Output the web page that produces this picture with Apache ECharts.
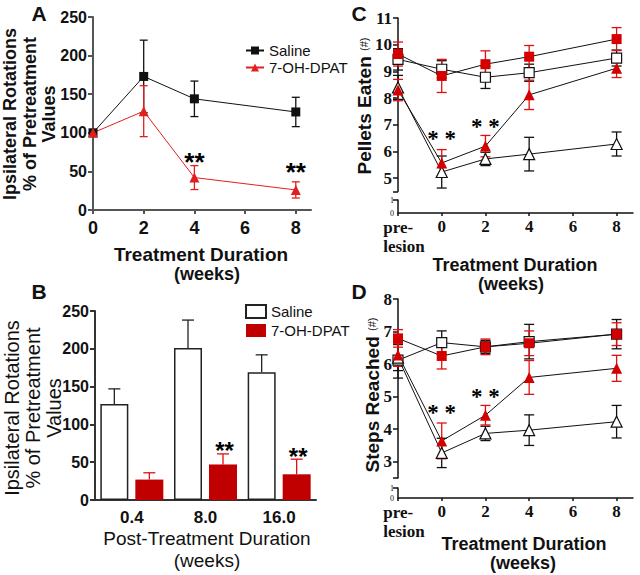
<!DOCTYPE html>
<html>
<head>
<meta charset="utf-8">
<script src="https://cdn.jsdelivr.net/npm/echarts@6/dist/echarts.min.js"></script>
<style>
html,body{margin:0;padding:0;background:#fff;}
#chart{width:640px;height:575px;}
</style>
</head>
<body>
<div id="chart"></div>
<script>
// ---------- Panel A data ----------
const weeksA = [0, 2, 4, 8];
const salineA = [100, 173, 144, 127];
const salineASem = [0, 47, 23, 19];
const dpatA = [100, 128, 42, 26];
const dpatASem = [0, 33, 15.5, 10.5];
const ticksA = [0, 2, 4, 6, 8];

// ---------- Panel B data ----------
const catsB = ['0.4', '8.0', '16.0'];
const salineB = [127, 201, 169];
const salineBSem = [20, 37, 23];
const dpatB = [27, 47, 34];
const dpatBSem = [9, 14, 20];

// ---------- Panels C / D shared x ----------
const weeksCD = [-2, 0, 2, 4, 8];       // -2 = "pre-lesion"
const ticksCD = [-2, 0, 2, 4, 6, 8];

// ---------- Panel C data (Pellets Eaten) ----------
const cRedSq = [9.65, 8.83, 9.27, 9.55, 10.21];
const cRedSqSem = [0.45, 0.62, 0.5, 0.42, 0.43];
const cOpenSq = [9.45, 9.08, 8.78, 8.95, 9.5];
const cOpenSqSem = [0.4, 0.32, 0.42, 0.32, 0.3];
const cRedTri = [8.3, 5.57, 6.2, 8.12, 9.12];
const cRedTriSem = [0.4, 0.5, 0.4, 0.55, 0.35];
const cOpenTri = [8.4, 5.23, 5.72, 5.9, 6.28];
const cOpenTriSem = [0.45, 0.6, 0.25, 0.63, 0.45];
const ticksCy = [5, 6, 7, 8, 9, 10, 11];

// ---------- Panel D data (Steps Reached) ----------
const dRedSq = [6.79, 6.25, 6.53, 6.64, 6.92];
const dRedSqSem = [0.27, 0.4, 0.24, 0.38, 0.35];
const dOpenSq = [6.12, 6.66, 6.53, 6.69, 6.92];
const dOpenSqSem = [0.55, 0.36, 0.2, 0.53, 0.45];
const dRedTri = [6.28, 3.64, 4.43, 5.59, 5.87];
const dRedTriSem = [0.35, 0.55, 0.3, 0.52, 0.4];
const dOpenTri = [6.2, 3.27, 3.87, 3.97, 4.23];
const dOpenTriSem = [0.4, 0.45, 0.22, 0.47, 0.5];
const ticksDy = [3, 4, 5, 6, 7, 8];

// ---------- significance marks ----------
const starsA = [[4, 62], [8, 49]];
const starsB = [[1, 66], [2, 58]];
const starsC = [[0, 6.47], [2, 6.94]];
const starsD = [[0, 4.5], [2, 5.0]];

const SANS = "'Liberation Sans', Arial, sans-serif";
const SERIF = "'Liberation Serif', 'Times New Roman', serif";
const RED = '#d40000';
const RED_ERR = '#e01010';
const BLK = '#111';

function zip(xs, ys, es) { return xs.map((x, i) => es ? [x, ys[i], es[i]] : [x, ys[i]]); }

function errSeries(xi, yi, data, color, cap, both, offset) {
  return {
    type: 'custom', xAxisIndex: xi, yAxisIndex: yi, z: 2, silent: true,
    encode: { x: 0, y: 1 },
    data: data,
    renderItem: function (params, api) {
      const x = api.value(0), y = api.value(1), e = api.value(2);
      if (!e) return null;
      const c = api.coord([x, y]);
      const t = api.coord([x, y + e]);
      const b = both ? api.coord([x, y - e]) : c;
      const px = c[0] + (offset || 0);
      const st = { stroke: color, lineWidth: 1.3 };
      const ch = [
        { type: 'line', shape: { x1: px, y1: t[1], x2: px, y2: b[1] }, style: st },
        { type: 'line', shape: { x1: px - cap, y1: t[1], x2: px + cap, y2: t[1] }, style: st }
      ];
      if (both) ch.push({ type: 'line', shape: { x1: px - cap, y1: b[1], x2: px + cap, y2: b[1] }, style: st });
      return { type: 'group', children: ch };
    }
  };
}

function starSeries(xi, yi, data, text, size, family, weight, offX) {
  return {
    type: 'scatter', xAxisIndex: xi, yAxisIndex: yi, silent: true, z: 10,
    symbolSize: 1, itemStyle: { color: '#fff', opacity: 1 },
    data: data,
    label: { show: true, position: 'inside', formatter: text, fontSize: size, fontFamily: family,
             fontWeight: weight, color: '#000', textBorderWidth: 0, offset: [offX || 0, 0] }
  };
}

function cdLine(xi, yi, name, vals, sym, filled) {
  return {
    type: 'line', name: name, xAxisIndex: xi, yAxisIndex: yi, z: 4,
    data: zip(weeksCD, vals),
    symbol: sym, symbolSize: sym === 'rect' ? 10 : 11,
    showSymbol: true,
    itemStyle: filled ? { color: RED, borderColor: RED, borderWidth: 0 } : { color: '#fff', borderColor: BLK, borderWidth: 1.2 },
    lineStyle: { color: BLK, width: 1 }
  };
}

const grids = [
  { left: 93, top: 17, width: 218, height: 193 },   // 0 A
  { left: 95, top: 311, width: 221, height: 189 },  // 1 B
  { left: 398, top: 18, width: 235, height: 173.5 },// 2 C upper
  { left: 398, top: 200, width: 235, height: 13 },  // 3 C lower
  { left: 398, top: 299, width: 235, height: 179 }, // 4 D upper
  { left: 398, top: 488, width: 235, height: 10 }   // 5 D lower
];

const axGrayA = { color: '#555', width: 2 };
const axGrayB = { color: '#333', width: 2 };
const axBlk = { color: '#111', width: 1.5 };

function cdX(gi, show) {
  return {
    gridIndex: gi, type: 'value', min: -2, max: 8.75, show: show,
    splitLine: { show: false },
    axisLine: { show: true, onZero: false, lineStyle: axBlk },
    axisTick: { show: true, customValues: ticksCD, length: 3, lineStyle: axBlk },
    axisLabel: {
      customValues: ticksCD, margin: 5, color: '#111', fontFamily: SERIF, fontWeight: 'bold', fontSize: 17, lineHeight: 17,
      formatter: v => v === -2 ? '{p|pre-\nlesion}' : String(v),
      rich: { p: { fontFamily: SERIF, fontWeight: 'bold', fontSize: 17, lineHeight: 19, align: 'left', padding: [0, 0, 0, 12] } }
    }
  };
}
function cdYUpper(gi, min, max, ticks) {
  return {
    gridIndex: gi, type: 'value', min: min, max: max,
    splitLine: { show: false },
    axisLine: { show: true, onZero: false, lineStyle: axBlk },
    axisTick: { show: true, customValues: [min].concat(ticks), length: 5, lineStyle: axBlk },
    axisLabel: { customValues: ticks, margin: 6, color: '#111', fontFamily: SERIF, fontWeight: 'bold', fontSize: 17 }
  };
}
function cdYLower(gi) {
  return {
    gridIndex: gi, type: 'value', min: 0, max: 1,
    splitLine: { show: false },
    axisLine: { show: true, onZero: false, lineStyle: axBlk },
    axisTick: { show: true, customValues: [1], length: 5, lineStyle: axBlk },
    axisLabel: { customValues: [0, 1], margin: 4, color: '#111', fontFamily: SERIF, fontSize: 8, lineHeight: 8 }
  };
}

const xAxes = [
  { gridIndex: 0, type: 'value', min: 0, max: 8.6, splitLine: { show: false },
    axisLine: { show: true, onZero: false, lineStyle: axGrayA },
    axisTick: { show: true, customValues: ticksA, length: 4, lineStyle: axGrayA },
    axisLabel: { customValues: ticksA, margin: 9, color: '#111', fontFamily: SANS, fontWeight: 'bold', fontSize: 18 } },
  { gridIndex: 1, type: 'category', data: catsB,
    axisLine: { show: true, lineStyle: axGrayB }, axisTick: { show: false },
    axisLabel: { margin: 9, color: '#111', fontFamily: SANS, fontWeight: 'bold', fontSize: 17 } },
  cdX(2, false), cdX(3, true), cdX(4, false), cdX(5, true)
];
const yAxes = [
  { gridIndex: 0, type: 'value', min: 0, max: 250, interval: 50, splitLine: { show: false },
    axisLine: { show: true, onZero: false, lineStyle: axGrayA },
    axisTick: { show: true, length: 5, lineStyle: axGrayA },
    axisLabel: { margin: 6, color: '#111', fontFamily: SANS, fontWeight: 'bold', fontSize: 16 } },
  { gridIndex: 1, type: 'value', min: 0, max: 250, interval: 50, splitLine: { show: false },
    axisLine: { show: true, onZero: false, lineStyle: axGrayB },
    axisTick: { show: true, length: 5, lineStyle: axGrayB },
    axisLabel: { margin: 6, color: '#111', fontFamily: SANS, fontWeight: 'bold', fontSize: 16 } },
  cdYUpper(2, 4.5, 11, ticksCy), cdYLower(3),
  cdYUpper(4, 2.5, 8, ticksDy), cdYLower(5)
];

const series = [
  // Panel A
  errSeries(0, 0, zip(weeksA, salineA, salineASem), BLK, 4, true),
  errSeries(0, 0, zip(weeksA, dpatA, dpatASem), '#e02020', 4, true),
  { type: 'line', name: 'Saline', xAxisIndex: 0, yAxisIndex: 0, z: 4, data: zip(weeksA, salineA),
    symbol: 'rect', symbolSize: 9, itemStyle: { color: BLK }, lineStyle: { color: BLK, width: 1 } },
  { type: 'line', name: '7-OH-DPAT', xAxisIndex: 0, yAxisIndex: 0, z: 4, data: zip(weeksA, dpatA),
    symbol: 'triangle', symbolSize: 10, itemStyle: { color: '#e02020' }, lineStyle: { color: '#e02020', width: 1 } },
  starSeries(0, 0, starsA, '**', 26, SANS, 'bold'),

  // Panel B
  { type: 'bar', name: 'Saline ', xAxisIndex: 1, yAxisIndex: 1, data: salineB, barWidth: 28, barGap: '25%',
    itemStyle: { color: '#fff', borderColor: '#222', borderWidth: 1.5 } },
  { type: 'bar', name: '7-OH-DPAT ', xAxisIndex: 1, yAxisIndex: 1, data: dpatB, barWidth: 28, barGap: '25%',
    itemStyle: { color: '#c00000' } },
  errSeries(1, 1, catsB.map((c, i) => [i, salineB[i], salineBSem[i]]), '#222', 6, false, -17.5),
  errSeries(1, 1, catsB.map((c, i) => [i, dpatB[i], dpatBSem[i]]), RED_ERR, 6, false, 17.5),
  starSeries(1, 1, starsB, '**', 24, SANS, 'bold', 19),

  // Panel C
  errSeries(2, 2, zip(weeksCD, cOpenSq, cOpenSqSem), BLK, 5, true),
  errSeries(2, 2, zip(weeksCD, cOpenTri, cOpenTriSem), BLK, 5, true),
  errSeries(2, 2, zip(weeksCD, cRedSq, cRedSqSem), RED_ERR, 5, true),
  errSeries(2, 2, zip(weeksCD, cRedTri, cRedTriSem), RED_ERR, 5, true),
  cdLine(2, 2, 'C open square', cOpenSq, 'rect', false),
  cdLine(2, 2, 'C open triangle', cOpenTri, 'triangle', false),
  cdLine(2, 2, 'C red square', cRedSq, 'rect', true),
  cdLine(2, 2, 'C red triangle', cRedTri, 'triangle', true),
  starSeries(2, 2, starsC, '* *', 23, SERIF, 'bold'),

  // Panel D
  errSeries(4, 4, zip(weeksCD, dOpenSq, dOpenSqSem), BLK, 5, true),
  errSeries(4, 4, zip(weeksCD, dOpenTri, dOpenTriSem), BLK, 5, true),
  errSeries(4, 4, zip(weeksCD, dRedSq, dRedSqSem), RED_ERR, 5, true),
  errSeries(4, 4, zip(weeksCD, dRedTri, dRedTriSem), RED_ERR, 5, true),
  cdLine(4, 4, 'D open square', dOpenSq, 'rect', false),
  cdLine(4, 4, 'D open triangle', dOpenTri, 'triangle', false),
  cdLine(4, 4, 'D red square', dRedSq, 'rect', true),
  cdLine(4, 4, 'D red triangle', dRedTri, 'triangle', true),
  starSeries(4, 4, starsD, '* *', 23, SERIF, 'bold')
];

function txt(x, y, text, size, weight, opts) {
  opts = opts || {};
  return {
    type: 'text', x: x, y: y, rotation: opts.rot || 0, z: 100,
    style: { text: text, fontSize: size, fontWeight: weight, fontFamily: opts.family || SANS, fill: '#111',
             align: 'center', verticalAlign: 'middle', lineHeight: opts.lh || size, rich: opts.rich }
  };
}
const R90 = Math.PI / 2;

const graphics = [
  txt(39, 13, 'A', 21, 'bold'), txt(39, 291, 'B', 21, 'bold'),
  txt(359, 13, 'C', 21, 'bold'), txt(359, 291, 'D', 21, 'bold'),
  txt(29.5, 114, 'Ipsilateral Rotations\n% of Pretreatment\nValues', 18, 'bold', { rot: R90, lh: 19.5 }),
  txt(32.5, 408, 'Ipsilateral Rotations\n% of Pretreatment\nValues', 20, 'normal', { rot: R90, lh: 21 }),
  txt(201, 254, 'Treatment Duration', 19, 'bold'),
  txt(207, 273.5, '(weeks)', 18, 'bold'),
  txt(207, 538, 'Post-Treatment Duration', 19, 'normal'),
  txt(207, 560, '(weeks)', 19, 'normal'),
  txt(515, 265, 'Treatment Duration', 18, 'bold'),
  txt(511, 284, '(weeks)', 18, 'bold'),
  txt(524, 544, 'Treatment Duration', 18, 'bold'),
  txt(523, 562.5, '(weeks)', 18, 'bold'),
  txt(364, 106, '{a|Pellets Eaten }{b|(#)}', 19, 'bold',
      { rot: R90, rich: { a: { fontSize: 19, fontWeight: 'bold', fontFamily: SANS, fill: '#111' },
                          b: { fontSize: 11, fontWeight: 'normal', fontFamily: SANS, fill: '#111' } } }),
  txt(372, 395, '{a|Steps Reached }{b|(#)}', 19, 'bold',
      { rot: R90, rich: { a: { fontSize: 19, fontWeight: 'bold', fontFamily: SANS, fill: '#111' },
                          b: { fontSize: 11, fontWeight: 'normal', fontFamily: SANS, fill: '#111' } } })
];

const chart = echarts.init(document.getElementById('chart'), null, { renderer: 'svg', width: 640, height: 575 });
chart.setOption({
  animation: false,
  backgroundColor: '#fff',
  grid: grids,
  xAxis: xAxes,
  yAxis: yAxes,
  legend: [
    { data: ['Saline', '7-OH-DPAT'], orient: 'vertical', left: 240, top: 38, itemWidth: 18, itemHeight: 10,
      itemGap: 2, selectedMode: false, textStyle: { fontSize: 15, fontFamily: SANS, color: '#111' } },
    { data: ['Saline ', '7-OH-DPAT '], orient: 'vertical', left: 240, top: 299, itemWidth: 20, itemHeight: 13,
      itemGap: 4, icon: 'rect', selectedMode: false, textStyle: { fontSize: 15, fontFamily: SANS, color: '#111' } }
  ],
  graphic: graphics,
  series: series
});
</script>
</body>
</html>
